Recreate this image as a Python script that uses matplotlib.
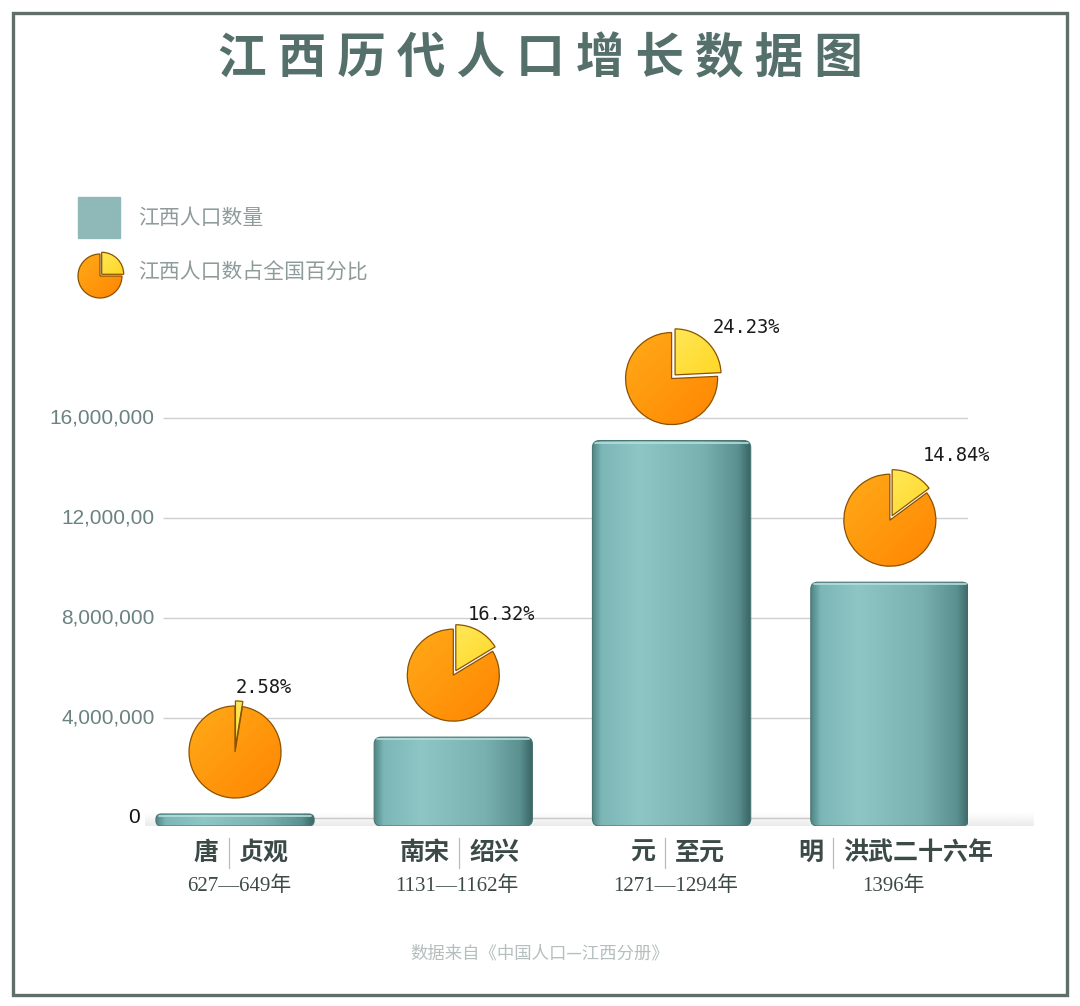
import numpy as np
import matplotlib
matplotlib.use('Agg')
import matplotlib.pyplot as plt
from matplotlib.patches import FancyBboxPatch, Rectangle
from matplotlib.lines import Line2D
from matplotlib.colors import to_rgb

# --- data ---
cat_dynasty = ['唐', '南宋', '元', '明']
cat_reign = ['贞观', '绍兴', '至元', '洪武二十六年']
cat_years = ['627—649年', '1131—1162年', '1271—1294年', '1396年']
population = [160000, 3230000, 15080000, 9420000]
share_pct = [2.58, 16.32, 24.23, 14.84]
y_ticks = [0, 4000000, 8000000, 12000000, 16000000]
y_tick_labels = ['0', '4,000,000', '8,000,000', '12,000,00', '16,000,000']

TITLE = '江西历代人口增长数据图'
LEGEND_BAR = '江西人口数量'
LEGEND_PIE = '江西人口数占全国百分比'
SOURCE = '数据来自《中国人口—江西分册》'

# --- style ---
W, H = 1080, 1006
CJK = ['Noto Sans CJK SC', 'DejaVu Sans']
plt.rcParams['font.family'] = CJK
TEAL = '#8fb9b8'
TITLE_COLOR = '#55706b'
LABEL_DARK = '#3b4a47'
GREY_TXT = '#8d9b9a'
BASE = -320000          # bars sit a little under the zero line
PIE_R = 46              # pie radius, px
PIE_LIFT = 62           # pie centre above bar top, px
PCT_OFFS = [(1, -64), (14, -61), (41, -51), (33, -65)]   # label pos vs pie centre, px
GRID_X = (-0.33, 3.358)


def grad(c0, c1, n=64):
    yy, xx = np.mgrid[-1:1:n * 1j, -1:1:n * 1j]
    t = ((xx - yy) + 2) / 4
    a, b = np.array(to_rgb(c0)), np.array(to_rgb(c1))
    return a[None, None, :] * (1 - t[..., None]) + b[None, None, :] * t[..., None]


def draw_pie(pa, pct, r_box):
    wedges, _ = pa.pie([pct, 100 - pct], colors=['#ffe033', '#ff9600'], startangle=90,
                       counterclock=False, explode=[0.11, 0],
                       wedgeprops=dict(edgecolor='#8a5200', linewidth=0.9))
    cols = [('#fff27a', '#ffcc00'), ('#ffae1a', '#ff8200')]
    for w, (c0, c1) in zip(wedges, cols):
        w.set_facecolor('none')
        w.set_zorder(2)
        im = pa.imshow(grad(c0, c1), extent=(-1.2, 1.2, -1.2, 1.2), origin='lower',
                       zorder=1, interpolation='bilinear')
        im.set_clip_path(w)
    pa.set_xlim(-r_box, r_box)
    pa.set_ylim(-r_box, r_box)
    pa.set_aspect('equal')
    pa.axis('off')


fig = plt.figure(figsize=(10.8, 10.06), dpi=100)
fig.patch.set_facecolor('white')

ax_l, ax_r, ax_t, ax_b = 145, 968, 400, 826
ax = fig.add_axes([ax_l / W, 1 - ax_b / H, (ax_r - ax_l) / W, (ax_b - ax_t) / H])
xpx = (GRID_X[1] - GRID_X[0]) / (968 - 163)
xlim = (GRID_X[0] - (163 - ax_l) * xpx, GRID_X[1])
ylim = (BASE, 16.7e6)
ypx = (ylim[1] - ylim[0]) / (ax_b - ax_t)
asp = ypx / xpx

x = np.arange(len(population))
ax.hlines(y_ticks, GRID_X[0], GRID_X[1], color='#cfcfcf', lw=1, zorder=0)

bars = ax.bar(x, np.array(population) - BASE, bottom=BASE, width=0.725, color=TEAL)

# floor shadow
sh = np.zeros((16, 2, 4))
sh[..., :3] = 0.4
sh[..., 3] = np.linspace(0.13, 0, 16)[:, None] ** 1.0
ax.imshow(sh, extent=(xlim[0], xlim[1] + 0.3, BASE, BASE + 14 * ypx), origin='lower',
          aspect='auto', zorder=1, clip_on=False)

stops = [0, 0.06, 0.3, 0.7, 0.92, 1]
scols = ['#4f8585', '#7db6b6', '#8ec6c6', '#79b0b0', '#5b9090', '#3a6464']
t = np.linspace(0, 1, 256)
bar_img = np.zeros((2, 256, 3))
for c in range(3):
    bar_img[:, :, c] = np.interp(t, stops, [to_rgb(s)[c] for s in scols])

for rect in bars:
    x0, y0, w, h = rect.get_x(), rect.get_y(), rect.get_width(), rect.get_height()
    rs = min(7 * xpx, 0.45 * h / asp)
    rounded = FancyBboxPatch((x0, y0), w, h, boxstyle=f'round,pad=0,rounding_size={rs}',
                             mutation_aspect=asp, facecolor='none', edgecolor='#4a7674',
                             lw=0.8, zorder=3)
    ax.add_patch(rounded)
    im = ax.imshow(bar_img, extent=(x0, x0 + w, y0, y0 + h), aspect='auto', zorder=2,
                   interpolation='bilinear')
    im.set_clip_path(rounded)
    # top rim highlight
    ax.plot([x0 + 3 * xpx, x0 + w - 3 * xpx], [y0 + h - 2 * ypx] * 2, color='#b5dede',
            lw=1.2, zorder=4, solid_capstyle='round')
    rect.set_visible(False)

ax.set_xlim(*xlim)
ax.set_ylim(*ylim)
ax.set_xticks([])
ax.set_yticks([])
for s in ax.spines.values():
    s.set_visible(False)
ax.patch.set_alpha(0)

# y labels
for v, lab in zip(y_ticks, y_tick_labels):
    zero = v == 0
    ax.annotate(lab, xy=(GRID_X[0], v), xycoords='data',
                xytext=(-17 if zero else -6, 0), textcoords='offset points',
                ha='right', va='center', fontsize=15, family=['Liberation Sans', 'DejaVu Sans'],
                color='#111111' if zero else '#6a8280', annotation_clip=False)

# pies and percentage labels
for i, (v, p) in enumerate(zip(population, share_pct)):
    dx, dy = ax.transData.transform((x[i], v))
    cx, cy = dx, dy + PIE_LIFT
    half = 60
    pa = fig.add_axes([(cx - half) / W, (cy - half) / H, 2 * half / W, 2 * half / H])
    draw_pie(pa, p, half / PIE_R)
    ox, oy = PCT_OFFS[i]
    fig.text((cx + ox) / W, (cy - oy) / H, f'{p:.2f}%', ha='left', va='center',
             fontsize=13.5, family=['DejaVu Sans Mono'], color='#1a1a1a')

# category labels
cw = 25
gap = 10
for i in range(len(population)):
    dx, _ = ax.transData.transform((x[i], 0))
    nl, nr = len(cat_dynasty[i]), len(cat_reign[i])
    total = (nl + nr) * cw + 2 * gap
    start = dx - total / 2 + 6
    sep = start + nl * cw + gap
    fig.text((sep - gap) / W, 1 - 853 / H, cat_dynasty[i], ha='right', va='center',
             fontsize=18, weight='bold', color=LABEL_DARK)
    fig.text((sep + gap) / W, 1 - 853 / H, cat_reign[i], ha='left', va='center',
             fontsize=18, weight='bold', color=LABEL_DARK)
    fig.add_artist(Line2D([sep / W] * 2, [1 - 838 / H, 1 - 868 / H], color='#b8bdbc', lw=0.9))
    fig.text((dx + 4) / W, 1 - 886 / H, cat_years[i], ha='center', va='center',
             fontsize=15, family=['Liberation Serif', 'Noto Sans CJK SC'], color=LABEL_DARK)

# legend
fig.add_artist(Rectangle((78 / W, 1 - 238 / H), 42 / W, 41 / H, transform=fig.transFigure,
                         color=TEAL))
fig.text(138 / W, 1 - 218 / H, LEGEND_BAR, ha='left', va='center', fontsize=15, color=GREY_TXT)
lg = fig.add_axes([(100 - 28) / W, 1 - (276 + 28) / H, 56 / W, 56 / H])
draw_pie(lg, 25, 28 / 22)
fig.text(138 / W, 1 - 273 / H, LEGEND_PIE, ha='left', va='center', fontsize=15, color=GREY_TXT)

# title, source, frame
fig.text(540 / W, 1 - 59 / H, ' '.join(TITLE), ha='center', va='center', fontsize=35,
         weight='bold', color=TITLE_COLOR)
fig.text(540 / W, 1 - 953 / H, SOURCE, ha='center', va='center', fontsize=12.5, color='#b3bebd')
fig.add_artist(Rectangle((13 / W, 1 - 995 / H), (1067 - 13) / W, (995 - 13) / H,
                         transform=fig.transFigure, fill=False, edgecolor='#5f6e6a', lw=2.4))

fig.savefig('out.png', dpi=100)
